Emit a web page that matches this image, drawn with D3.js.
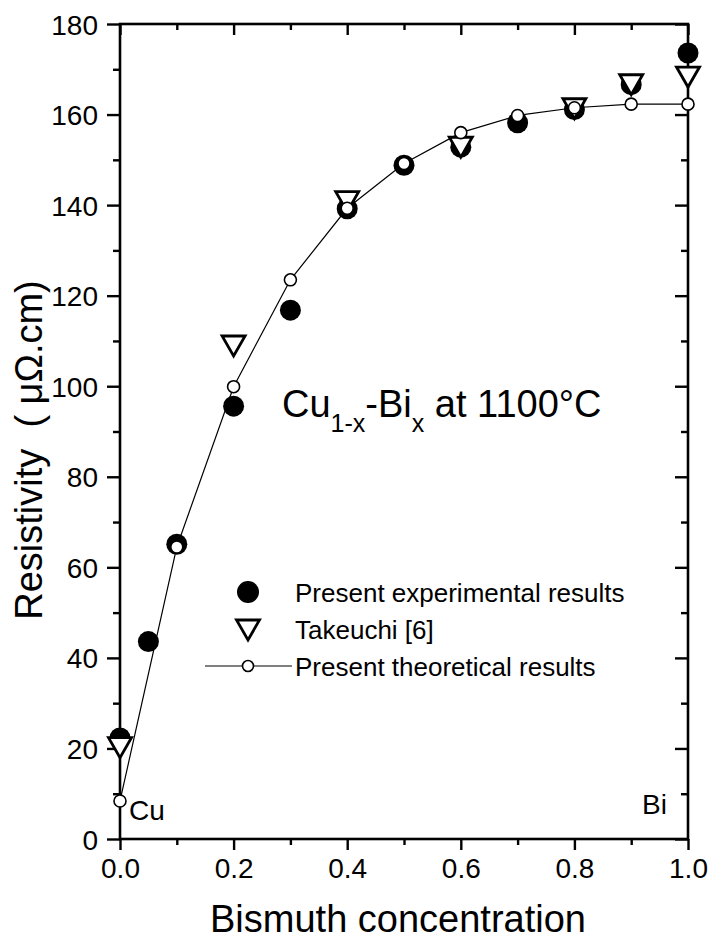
<!DOCTYPE html>
<html>
<head>
<meta charset="utf-8">
<script src="https://cdn.jsdelivr.net/npm/d3@7"></script>
<style>
  body { margin: 0; background: #fff; }
  svg text { font-family: "Liberation Sans", Arial, sans-serif; fill: #000; }
</style>
</head>
<body>
<div id="chart"></div>
<script>
// data
var expX = [0, 0.05, 0.1, 0.2, 0.3, 0.4, 0.5, 0.6, 0.7, 0.8, 0.9, 1.0];
var expY = [22.3, 43.6, 65.1, 95.6, 116.8, 139.2, 148.8, 152.8, 158.2, 161.1, 166.6, 173.6];

var takX = [0, 0.2, 0.4, 0.6, 0.8, 0.9, 1.0];
var takY = [20.4, 109.1, 141.0, 153.0, 161.5, 166.8, 168.5];

var theoX = [0, 0.1, 0.2, 0.3, 0.4, 0.5, 0.6, 0.7, 0.8, 0.9, 1.0];
var theoY = [8.4, 64.5, 99.9, 123.5, 139.3, 149.2, 156.0, 159.8, 161.5, 162.3, 162.3];

var xTicks = [0, 0.2, 0.4, 0.6, 0.8, 1.0];
var xMinor = [0.1, 0.3, 0.5, 0.7, 0.9];
var yTicks = [0, 20, 40, 60, 80, 100, 120, 140, 160, 180];
var yMinor = [10, 30, 50, 70, 90, 110, 130, 150, 170];

var legendLabels = ["Present experimental results", "Takeuchi [6]", "Present theoretical results"];

var W = 717, H = 939;
var plotL = 120, plotR = 688, plotT = 24, plotB = 839;

var svg = d3.select("#chart").append("svg")
    .attr("width", W)
    .attr("height", H);

var x = d3.scaleLinear().domain([0, 1]).range([plotL, plotR]);
var y = d3.scaleLinear().domain([0, 180]).range([plotB, plotT]);

// axes: outward ticks on left/bottom, inward on top/right
function styleAxis(g) {
  g.select(".domain").remove();
  g.selectAll("line").attr("stroke", "#000").attr("stroke-width", 2.4);
}

svg.append("g").attr("transform", "translate(" + plotL + ",0)")
  .call(d3.axisLeft(y).tickValues(yTicks).tickSize(13).tickFormat(d3.format("d")))
  .call(styleAxis)
  .selectAll("text").style("font-size", "28px").attr("dy", "0.36em").attr("x", -22);
svg.append("g").attr("transform", "translate(" + plotL + ",0)")
  .call(d3.axisLeft(y).tickValues(yMinor).tickSize(7).tickFormat(""))
  .call(styleAxis);

svg.append("g").attr("transform", "translate(" + plotR + ",0)")
  .call(d3.axisLeft(y).tickValues(yTicks).tickSize(13).tickFormat(""))
  .call(styleAxis);
svg.append("g").attr("transform", "translate(" + plotR + ",0)")
  .call(d3.axisLeft(y).tickValues(yMinor).tickSize(7).tickFormat(""))
  .call(styleAxis);

svg.append("g").attr("transform", "translate(0," + plotB + ")")
  .call(d3.axisBottom(x).tickValues(xTicks).tickSize(11).tickFormat(d3.format(".1f")))
  .call(styleAxis)
  .selectAll("text").style("font-size", "28px").attr("dy", null).attr("y", 39);
svg.append("g").attr("transform", "translate(0," + plotB + ")")
  .call(d3.axisBottom(x).tickValues(xMinor).tickSize(6).tickFormat(""))
  .call(styleAxis);

svg.append("g").attr("transform", "translate(0," + plotT + ")")
  .call(d3.axisBottom(x).tickValues(xTicks).tickSize(11).tickFormat(""))
  .call(styleAxis);
svg.append("g").attr("transform", "translate(0," + plotT + ")")
  .call(d3.axisBottom(x).tickValues(xMinor).tickSize(6).tickFormat(""))
  .call(styleAxis);

// frame
svg.append("rect")
  .attr("x", plotL).attr("y", plotT)
  .attr("width", plotR - plotL).attr("height", plotB - plotT)
  .attr("fill", "none").attr("stroke", "#000").attr("stroke-width", 2.6);

// axis titles
svg.append("text")
  .attr("x", 398).attr("y", 932)
  .attr("text-anchor", "middle")
  .style("font-size", "38px")
  .text("Bismuth concentration");

svg.append("text")
  .attr("transform", "translate(42,450) rotate(-90)")
  .attr("text-anchor", "middle")
  .style("font-size", "38px")
  .style("white-space", "pre")
  .text("Resistivity  ( \u03bc\u03a9.cm)");

// triangle pointing down
var triPath = "M-11.5,-9L11.5,-9L0,11Z";

// experimental (filled circles)
svg.append("g").selectAll("circle")
  .data(expX)
  .enter()
  .append("circle")
  .attr("cx", function(d) { return x(d); })
  .attr("cy", function(d, i) { return y(expY[i]); })
  .attr("r", 10.5)
  .attr("fill", "#000");

// Takeuchi (open down triangles)
svg.append("g").selectAll("path")
  .data(takX)
  .enter()
  .append("path")
  .attr("d", triPath)
  .attr("transform", function(d, i) { return "translate(" + x(d) + "," + y(takY[i]) + ")"; })
  .attr("fill", "#fff")
  .attr("stroke", "#000")
  .attr("stroke-width", 2.8)
  .attr("stroke-linejoin", "miter");

// theoretical line + open circles
var line = d3.line()
  .x(function(d) { return x(d); })
  .y(function(d, i) { return y(theoY[i]); });

svg.append("path")
  .datum(theoX)
  .attr("d", line)
  .attr("fill", "none")
  .attr("stroke", "#000")
  .attr("stroke-width", 1.2);

svg.append("g").selectAll("circle")
  .data(theoX)
  .enter()
  .append("circle")
  .attr("cx", function(d) { return x(d); })
  .attr("cy", function(d, i) { return y(theoY[i]); })
  .attr("r", 6)
  .attr("fill", "#fff")
  .attr("stroke", "#000")
  .attr("stroke-width", 1.6);

// annotation
var note = svg.append("text")
  .attr("x", 282).attr("y", 417)
  .style("font-size", "38px");
note.append("tspan").text("Cu");
note.append("tspan").attr("dy", 15).style("font-size", "25px").text("1-x");
note.append("tspan").attr("dy", -15).text("-Bi");
note.append("tspan").attr("dy", 15).style("font-size", "25px").text("x");
note.append("tspan").attr("dy", -15).text(" at 1100\u00b0C");

svg.append("text").attr("x", 129).attr("y", 820).style("font-size", "28px").text("Cu");
svg.append("text").attr("x", 667).attr("y", 814).attr("text-anchor", "end").style("font-size", "28px").text("Bi");

// legend
var legY = [592, 629, 666];
var lx = 248;
svg.append("circle").attr("cx", lx).attr("cy", legY[0]).attr("r", 11).attr("fill", "#000");
svg.append("path").attr("d", triPath)
  .attr("transform", "translate(" + lx + "," + legY[1] + ")")
  .attr("fill", "#fff").attr("stroke", "#000").attr("stroke-width", 2.8);
svg.append("line").attr("x1", 205).attr("x2", 292).attr("y1", legY[2]).attr("y2", legY[2])
  .attr("stroke", "#000").attr("stroke-width", 1.2);
svg.append("circle").attr("cx", lx).attr("cy", legY[2]).attr("r", 5.5)
  .attr("fill", "#fff").attr("stroke", "#000").attr("stroke-width", 1.6);

svg.append("g").selectAll("text")
  .data(legendLabels)
  .enter()
  .append("text")
  .attr("x", 295)
  .attr("y", function(d, i) { return legY[i] + 10; })
  .style("font-size", "26px")
  .text(function(d) { return d; });
</script>
</body>
</html>
